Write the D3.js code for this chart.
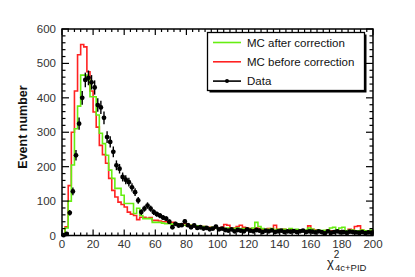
<!DOCTYPE html>
<html>
<head>
<meta charset="utf-8">
<script src="https://cdn.jsdelivr.net/npm/d3@7"></script>
<style>
  body { margin: 0; background: #fff; }
  text { font-family: "Liberation Sans", Arial, sans-serif; }
</style>
</head>
<body>
<svg id="chart"></svg>
<script>
// bin width 2, range 0..200 (100 bins)
const binWidth = 2;
const mcBefore = [2, 25, 145, 300, 420, 525, 555, 548, 476, 420, 359, 315, 262, 235, 210, 166, 131, 112, 97, 90,
  83, 68, 62, 58, 46, 53, 53, 50, 52, 44, 44, 42, 40, 40, 36, 38, 34, 32, 30, 34,
  28, 30, 26, 28, 24, 26, 22, 24, 20, 22, 22, 24, 32, 30, 18, 22, 26, 30, 24, 22,
  20, 18, 22, 20, 18, 16, 20, 18, 30, 18, 16, 18, 15, 18, 16, 14, 16, 15, 14, 28,
  18, 16, 14, 12, 14, 16, 13, 14, 12, 14, 12, 14, 18, 16, 26, 28, 16, 12, 14, 14];
const mcAfter = [2, 22, 100, 205, 310, 376, 466, 466, 452, 403, 403, 350, 297, 267, 233, 190, 166, 137, 137, 117,
  93, 93, 93, 64, 79, 58, 49, 49, 49, 38, 38, 38, 36, 34, 35, 33, 32, 34, 30, 30,
  28, 30, 27, 28, 25, 26, 24, 22, 24, 22, 20, 22, 20, 22, 18, 20, 22, 18, 20, 20,
  18, 22, 38, 26, 20, 16, 18, 20, 16, 18, 17, 18, 16, 20, 14, 18, 16, 14, 16, 22,
  18, 14, 16, 14, 15, 14, 22, 24, 16, 22, 24, 14, 15, 16, 14, 14, 16, 14, 12, 16];
const dataCounts = [1, 5, 66, 128, 233, 325, 400, 452, 458, 445, 430, 379, 372, 342, 286, 272, 243, 204, 194, 170,
  162, 155, 140, 126, 102, 68, 78, 87, 78, 68, 62, 58, 52, 49, 40, 24, 34, 29, 30, 41,
  30, 24, 29, 22, 24, 20, 22, 18, 20, 26, 18, 20, 16, 14, 18, 12, 16, 14, 12, 18,
  14, 12, 16, 14, 10, 14, 12, 15, 10, 12, 14, 10, 12, 11, 13, 10, 12, 14, 10, 12,
  11, 9, 12, 10, 6, 12, 8, 10, 12, 9, 10, 8, 11, 10, 9, 8, 10, 7, 9, 8];
const xTicks = [0, 20, 40, 60, 80, 100, 120, 140, 160, 180, 200];
const yTicks = [0, 100, 200, 300, 400, 500, 600];
const legendItems = ["MC after correction", "MC before correction", "Data"];

const W = 415, H = 277;
const svg = d3.select("#chart").attr("width", W).attr("height", H);

const x = d3.scaleLinear().domain([0, 200]).range([62, 373]);
const y = d3.scaleLinear().domain([0, 600]).range([235.5, 29]);

const green = "#66ee11", red = "#ff2222";

// step histograms
function histPath(counts) {
  const pts = [[0, 0]];
  counts.forEach((c, i) => {
    pts.push([i * binWidth, c]);
    pts.push([(i + 1) * binWidth, c]);
  });
  return d3.line().x(d => x(d[0])).y(d => y(d[1]))(pts);
}

svg.append("path").attr("d", histPath(mcBefore))
   .attr("fill", "none").attr("stroke", red).attr("stroke-width", 1.6);
svg.append("path").attr("d", histPath(mcAfter))
   .attr("fill", "none").attr("stroke", green).attr("stroke-width", 1.6);

// data points with errors
const pts = svg.append("g");
dataCounts.forEach((c, i) => {
  const cx = x((i + 0.5) * binWidth);
  const e = Math.sqrt(c);
  pts.append("line").attr("x1", cx).attr("x2", cx)
     .attr("y1", y(Math.max(0, c - e))).attr("y2", y(c + e))
     .attr("stroke", "#000").attr("stroke-width", 1.4);
  pts.append("circle").attr("cx", cx).attr("cy", y(c)).attr("r", 2.4).attr("fill", "#000");
});

// frame
svg.append("rect").attr("x", 62).attr("y", 29).attr("width", 311).attr("height", 206.5)
   .attr("fill", "none").attr("stroke", "#000").attr("stroke-width", 1.5);

// ticks on all four sides
const tg = svg.append("g").attr("stroke", "#000").attr("stroke-width", 1.2);
for (let v = 0; v <= 200; v += 4) {
  const len = v % 20 === 0 ? 6 : 3;
  tg.append("line").attr("x1", x(v)).attr("x2", x(v)).attr("y1", 235.5).attr("y2", 235.5 - len);
  tg.append("line").attr("x1", x(v)).attr("x2", x(v)).attr("y1", 29).attr("y2", 29 + len);
}
for (let v = 0; v <= 600; v += 20) {
  const len = v % 100 === 0 ? 7 : 3.5;
  tg.append("line").attr("x1", 62).attr("x2", 62 + len).attr("y1", y(v)).attr("y2", y(v));
  tg.append("line").attr("x1", 373).attr("x2", 373 - len).attr("y1", y(v)).attr("y2", y(v));
}

// tick labels
svg.selectAll(".xl").data(xTicks).enter().append("text")
   .attr("x", d => x(d)).attr("y", 247.5).attr("text-anchor", "middle")
   .attr("font-size", "11.5px").attr("fill", "#333").text(d => d);
svg.selectAll(".yl").data(yTicks).enter().append("text")
   .attr("x", 56).attr("y", d => y(d) + 4).attr("text-anchor", "end")
   .attr("font-size", "11.5px").attr("fill", "#333").text(d => d);

// axis titles
svg.append("text").attr("transform", "translate(27,127) rotate(-90)")
   .attr("text-anchor", "middle").attr("font-size", "12.5px").attr("font-weight", "bold")
   .attr("fill", "#111").text("Event number");
const xt = svg.append("text").attr("x", 327).attr("y", 267).attr("font-size", "13px").attr("fill", "#222");
xt.append("tspan").text("χ");
xt.append("tspan").attr("font-size", "10px").attr("dy", -9).attr("dx", 0).text("2");
xt.append("tspan").attr("font-size", "9.5px").attr("x", 335).attr("dy", 13).text("4c+PID");

// legend
svg.append("rect").attr("x", 209.5).attr("y", 34.5).attr("width", 157).attr("height", 58).attr("fill", "#000");
svg.append("rect").attr("x", 207.5).attr("y", 32.5).attr("width", 157).attr("height", 58)
   .attr("fill", "#fff").attr("stroke", "#000").attr("stroke-width", 1.3);
const lcol = [green, red, "#000"];
legendItems.forEach((t, i) => {
  const ly = 42.5 + i * 19.3;
  svg.append("line").attr("x1", 213).attr("x2", 241).attr("y1", ly).attr("y2", ly)
     .attr("stroke", lcol[i]).attr("stroke-width", 1.6);
  if (i === 2) svg.append("circle").attr("cx", 227).attr("cy", ly).attr("r", 2).attr("fill", "#000");
  svg.append("text").attr("x", 247).attr("y", ly + 4).attr("font-size", "11.5px")
     .attr("fill", "#111").text(t);
});
</script>
</body>
</html>
